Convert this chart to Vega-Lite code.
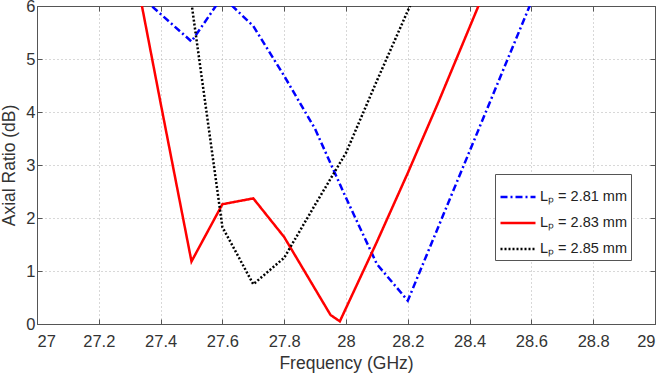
{
  "$schema": "https://vega.github.io/schema/vega-lite/v6.json",
  "autosize": "none",
  "padding": {"left": 37, "top": 6, "right": 9, "bottom": 50},
  "width": 618,
  "height": 318,
  "background": "white",
  "config": {
    "font": "Liberation Sans",
    "view": {"stroke": "#555", "strokeWidth": 1},
    "axis": {
      "labelFont": "Liberation Sans",
      "titleFont": "Liberation Sans",
      "labelFontSize": 16.5,
      "titleFontSize": 17.5,
      "titleFontWeight": "normal",
      "labelColor": "#333",
      "titleColor": "#333",
      "domainColor": "#555",
      "tickColor": "#555",
      "tickSize": -5,
      "gridColor": "#b0b0b0",
      "gridDash": [1, 3],
      "gridWidth": 1
    }
  },
  "data": {
    "values": [
      {"f": 27.3, "ar": 6.36, "lp": "Lₚ = 2.81 mm"},
      {"f": 27.4, "ar": 5.85, "lp": "Lₚ = 2.81 mm"},
      {"f": 27.5, "ar": 5.33, "lp": "Lₚ = 2.81 mm"},
      {"f": 27.6, "ar": 6.18, "lp": "Lₚ = 2.81 mm"},
      {"f": 27.7, "ar": 5.62, "lp": "Lₚ = 2.81 mm"},
      {"f": 27.8, "ar": 4.68, "lp": "Lₚ = 2.81 mm"},
      {"f": 27.9, "ar": 3.68, "lp": "Lₚ = 2.81 mm"},
      {"f": 28.0, "ar": 2.38, "lp": "Lₚ = 2.81 mm"},
      {"f": 28.1, "ar": 1.13, "lp": "Lₚ = 2.81 mm"},
      {"f": 28.2, "ar": 0.44, "lp": "Lₚ = 2.81 mm"},
      {"f": 28.3, "ar": 1.85, "lp": "Lₚ = 2.81 mm"},
      {"f": 28.4, "ar": 3.26, "lp": "Lₚ = 2.81 mm"},
      {"f": 28.5, "ar": 4.67, "lp": "Lₚ = 2.81 mm"},
      {"f": 28.6, "ar": 6.08, "lp": "Lₚ = 2.81 mm"},

      {"f": 27.3, "ar": 7.2, "lp": "Lₚ = 2.83 mm"},
      {"f": 27.4, "ar": 4.17, "lp": "Lₚ = 2.83 mm"},
      {"f": 27.5, "ar": 1.18, "lp": "Lₚ = 2.83 mm"},
      {"f": 27.6, "ar": 2.26, "lp": "Lₚ = 2.83 mm"},
      {"f": 27.7, "ar": 2.37, "lp": "Lₚ = 2.83 mm"},
      {"f": 27.8, "ar": 1.64, "lp": "Lₚ = 2.83 mm"},
      {"f": 27.9, "ar": 0.66, "lp": "Lₚ = 2.83 mm"},
      {"f": 27.95, "ar": 0.17, "lp": "Lₚ = 2.83 mm"},
      {"f": 27.98, "ar": 0.05, "lp": "Lₚ = 2.83 mm"},
      {"f": 28.0, "ar": 0.3, "lp": "Lₚ = 2.83 mm"},
      {"f": 28.1, "ar": 1.55, "lp": "Lₚ = 2.83 mm"},
      {"f": 28.2, "ar": 2.85, "lp": "Lₚ = 2.83 mm"},
      {"f": 28.3, "ar": 4.2, "lp": "Lₚ = 2.83 mm"},
      {"f": 28.4, "ar": 5.6, "lp": "Lₚ = 2.83 mm"},
      {"f": 28.5, "ar": 7.0, "lp": "Lₚ = 2.83 mm"},

      {"f": 27.4, "ar": 10.0, "lp": "Lₚ = 2.85 mm"},
      {"f": 27.5, "ar": 6.05, "lp": "Lₚ = 2.85 mm"},
      {"f": 27.6, "ar": 1.83, "lp": "Lₚ = 2.85 mm"},
      {"f": 27.7, "ar": 0.75, "lp": "Lₚ = 2.85 mm"},
      {"f": 27.8, "ar": 1.25, "lp": "Lₚ = 2.85 mm"},
      {"f": 27.9, "ar": 2.25, "lp": "Lₚ = 2.85 mm"},
      {"f": 28.0, "ar": 3.23, "lp": "Lₚ = 2.85 mm"},
      {"f": 28.1, "ar": 4.59, "lp": "Lₚ = 2.85 mm"},
      {"f": 28.2, "ar": 5.91, "lp": "Lₚ = 2.85 mm"},
      {"f": 28.3, "ar": 7.2, "lp": "Lₚ = 2.85 mm"}
    ]
  },
  "layer": [
    {
      "mark": {"type": "line", "clip": true, "strokeWidth": 2.5, "strokeCap": "butt", "strokeJoin": "miter"},
      "encoding": {
        "x": {
          "field": "f", "type": "quantitative",
          "scale": {"domain": [27, 29], "nice": false, "zero": false},
          "axis": {
            "title": "Frequency (GHz)",
            "values": [27, 27.2, 27.4, 27.6, 27.8, 28, 28.2, 28.4, 28.6, 28.8, 29],
            "format": "~g",
            "labelPadding": 14,
            "titlePadding": 5
          }
        },
        "y": {
          "field": "ar", "type": "quantitative",
          "scale": {"domain": [0, 6], "nice": false},
          "axis": {
            "title": "Axial Ratio (dB)",
            "values": [0, 1, 2, 3, 4, 5, 6],
            "labelPadding": 7,
            "titlePadding": 7
          }
        },
        "color": {
          "field": "lp", "type": "nominal",
          "scale": {"range": ["#0000ff", "#ff0000", "#000000"]},
          "legend": {
            "title": null,
            "orient": "none",
            "legendX": 458,
            "legendY": 168,
            "padding": 4,
            "strokeColor": "#555",
            "fillColor": "white",
            "symbolType": "M-1,0H1",
            "symbolSize": 1225,
            "symbolStrokeWidth": 2.5,
            "labelFont": "Liberation Sans",
            "labelFontSize": 14.5,
            "labelColor": "#222",
            "labelOffset": 3,
            "rowPadding": -7.5
          }
        },
        "strokeDash": {
          "field": "lp", "type": "nominal",
          "scale": {"range": [[7, 3, 2, 3], [1, 0], [2, 2]]},
          "legend": null
        }
      }
    },
    {
      "mark": {"type": "line", "opacity": 0},
      "encoding": {
        "x": {
          "field": "f", "type": "quantitative",
          "axis": {"orient": "top", "title": null, "labels": false, "grid": false,
                   "values": [27, 27.2, 27.4, 27.6, 27.8, 28, 28.2, 28.4, 28.6, 28.8, 29]}
        },
        "y": {
          "field": "ar", "type": "quantitative",
          "axis": {"orient": "right", "title": null, "labels": false, "grid": false,
                   "values": [0, 1, 2, 3, 4, 5, 6]}
        },
        "detail": {"field": "lp"}
      }
    }
  ],
  "resolve": {"axis": {"x": "independent", "y": "independent"}}
}
